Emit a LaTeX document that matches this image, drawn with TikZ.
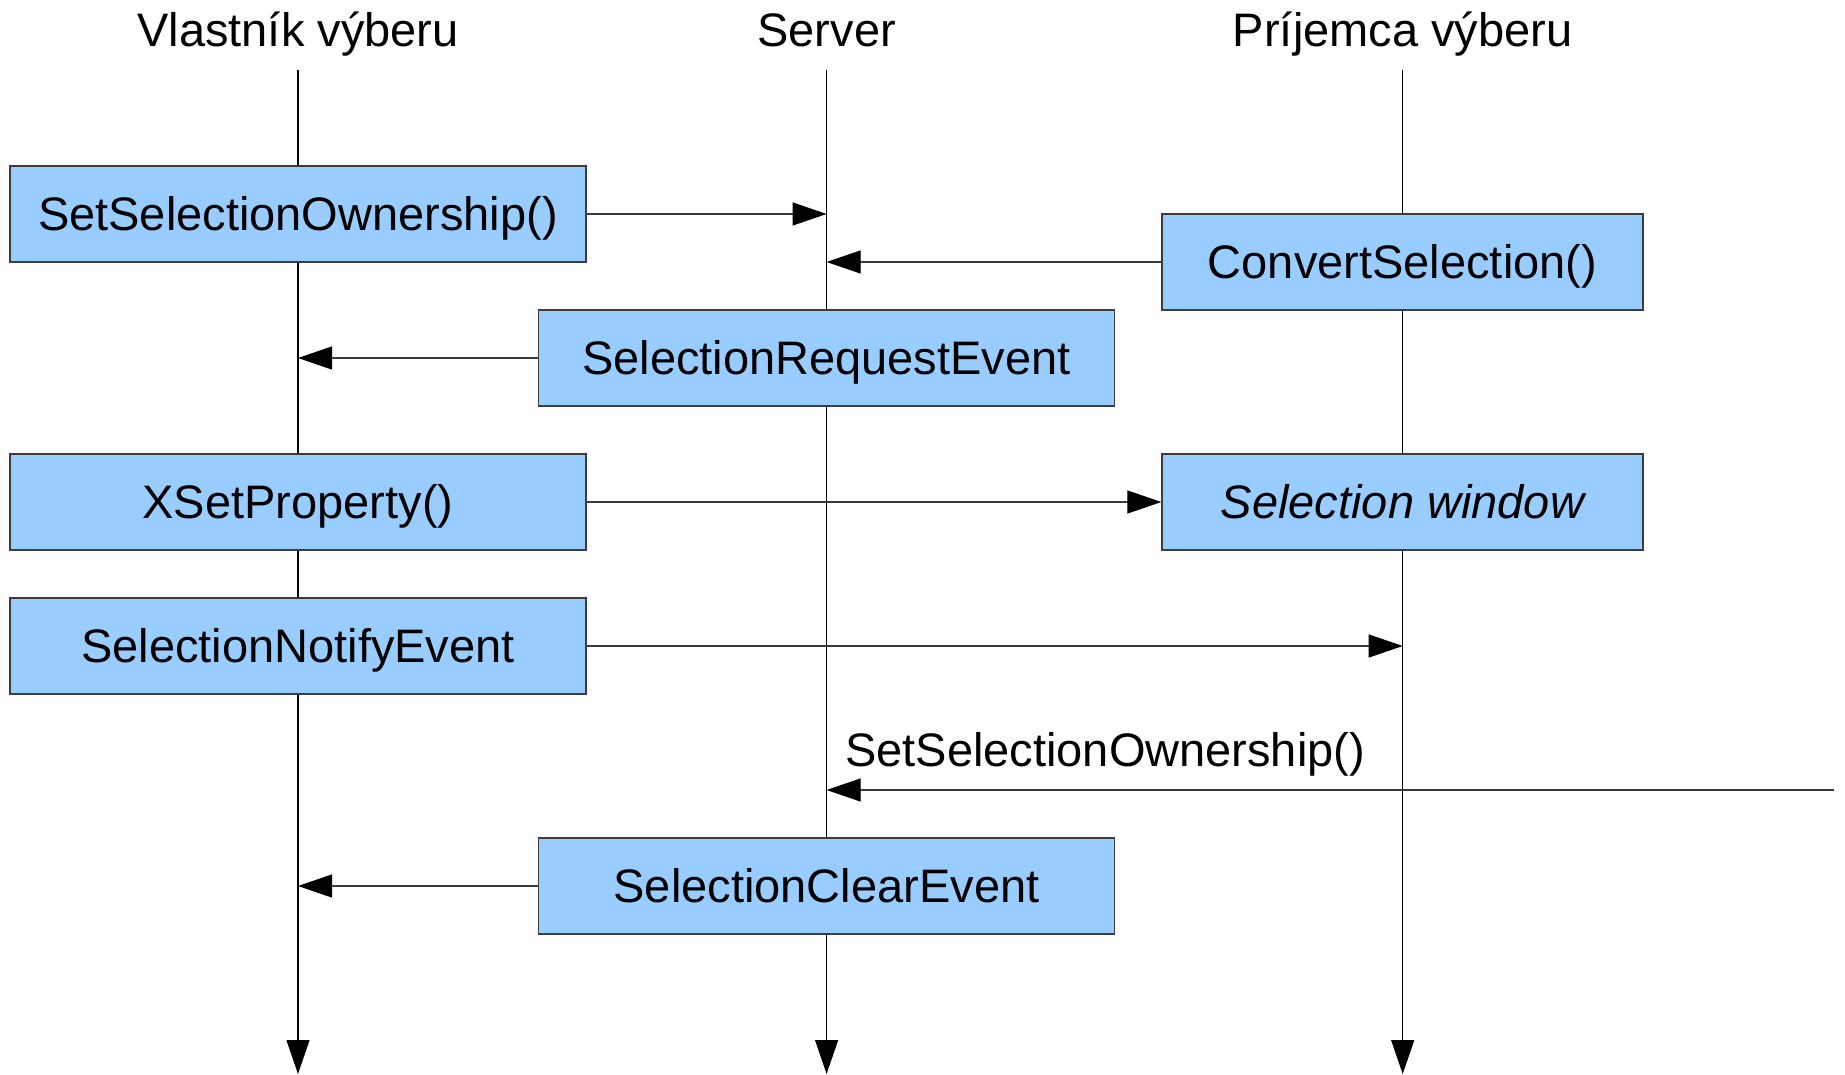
\documentclass[tikz,border=0pt]{standalone}
\usepackage{fontspec}
\setmainfont{Liberation Sans}
\usetikzlibrary{arrows.meta}
\definecolor{boxblue}{HTML}{99CCFF}
\definecolor{edgegray}{HTML}{3C3C3C}

\begin{document}
\begin{tikzpicture}[x=1pt,y=-1pt,
  font=\fontsize{47}{56}\selectfont,
  msgbox/.style={draw=edgegray, line width=1.3pt, fill=boxblue, inner sep=0pt,
    minimum height=96pt, text height=33.6pt, text depth=0pt},
  widebox/.style={msgbox, minimum width=576pt},
  narrowbox/.style={msgbox, minimum width=481pt},
  tip/.style={-{Triangle[length=34pt,width=23pt,color=black]}},
  lifeline/.style={draw=black, line width=1.1pt, tip},
  msg/.style={draw=edgegray, line width=1.2pt, tip},
  heading/.style={anchor=base, inner sep=0pt}]

\useasboundingbox (0,0) rectangle (1845,1075);

% participants
\node[heading] (hOwn) at (298,46.7) {Vlastník výberu};
\node[heading] (hSrv) at (826.6,46.7) {Server};
\node[heading] (hRcv) at (1402.7,46.7) {Príjemca výberu};

\coordinate (ownTop) at (298,70);
\coordinate (srvTop) at (826.6,70);
\coordinate (rcvTop) at (1402.7,70);
\coordinate (ownEnd) at (298,1074);
\coordinate (srvEnd) at (826.6,1074);
\coordinate (rcvEnd) at (1402.7,1074);

% lifelines
\draw[lifeline] (ownTop) -- (ownEnd);
\draw[lifeline] (srvTop) -- (srvEnd);
\draw[lifeline] (rcvTop) -- (rcvEnd);

% calls and events
\node[widebox]   (setown)  at (298,214)    {SetSelectionOwnership()};
\node[narrowbox] (convert) at (1402.5,262) {ConvertSelection()};
\node[widebox]   (request) at (826.5,358)  {SelectionRequestEvent};
\node[widebox]   (xset)    at (298,502)    {XSetProperty()};
\node[narrowbox] (window)  at (1402.5,502) {\itshape Selection window};
\node[widebox]   (notify)  at (298,646)    {SelectionNotifyEvent};
\node[widebox]   (clear)   at (826.5,886)  {SelectionClearEvent};

\coordinate (otherOwner) at (1834,790);

% messages
\draw[msg] (setown.east) -- (setown.east -| srvTop);
\draw[msg] (convert.west) -- (convert.west -| srvTop);
\draw[msg] (request.west) -- (request.west -| ownTop);
\draw[msg] (xset.east) -- (window.west);
\draw[msg] (notify.east) -- (notify.east -| rcvTop);
\draw[msg] (otherOwner) -- (otherOwner -| srvTop);
\node[anchor=base west, inner sep=0pt] (lblOwn) at (845,766) {SetSelectionOwnership()};
\draw[msg] (clear.west) -- (clear.west -| ownTop);

\end{tikzpicture}
\end{document}
